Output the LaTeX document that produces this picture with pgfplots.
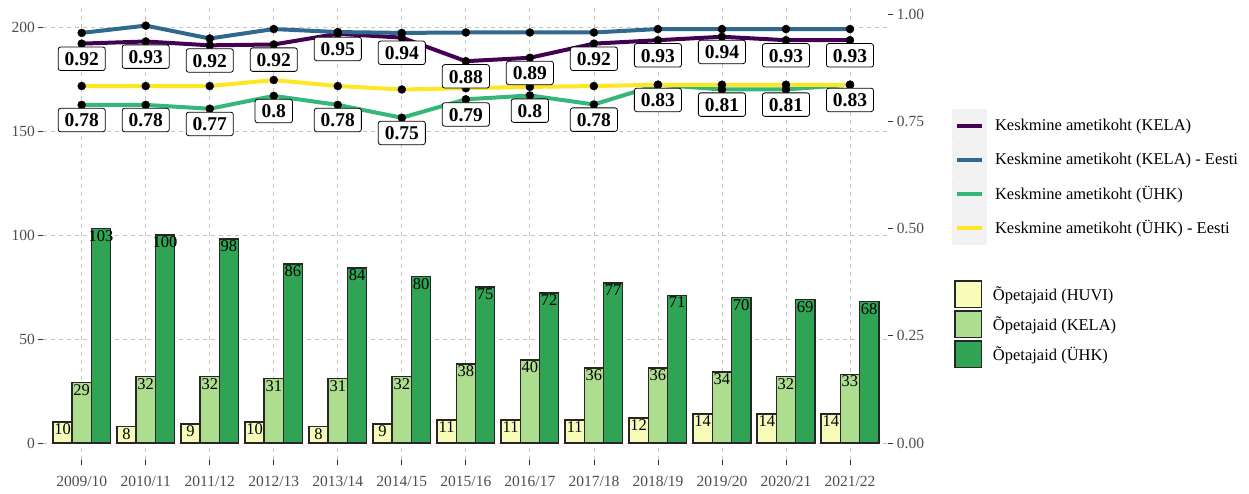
\documentclass[border=0pt]{standalone}
\usepackage{pgfplots}
\pgfplotsset{compat=1.18}
\usepackage{pgfplotstable}
\usepackage{fontspec}
\setmainfont{Liberation Serif}
\definecolor{cKela}{HTML}{440154}
\definecolor{cKelaE}{HTML}{31688E}
\definecolor{cUhk}{HTML}{35B779}
\definecolor{cUhkE}{HTML}{FDE725}
\definecolor{bHuvi}{HTML}{F7FCB9}
\definecolor{bKela}{HTML}{ADDD8E}
\definecolor{bUhk}{HTML}{31A354}
\definecolor{tickc}{HTML}{4D4D4D}
\definecolor{gridc}{HTML}{C4C4C4}
\definecolor{keybg}{HTML}{F2F2F2}

\pgfplotstableread{
x huvi kela uhk
0 10 29 103
1 8 32 100
2 9 32 98
3 10 31 86
4 8 31 84
5 9 32 80
6 11 38 75
7 11 40 72
8 11 36 77
9 12 36 71
10 14 34 70
11 14 32 69
12 14 33 68
}\bars

\pgfplotstableread{
x kela kelaE uhk uhkE kelaL uhkL
0 0.932 0.957 0.789 0.833 0.92 0.78
1 0.937 0.974 0.789 0.833 0.93 0.78
2 0.928 0.944 0.780 0.833 0.92 0.77
3 0.930 0.966 0.810 0.847 0.92 0.8
4 0.955 0.959 0.789 0.833 0.95 0.78
5 0.946 0.957 0.759 0.825 0.94 0.75
6 0.891 0.958 0.802 0.828 0.88 0.79
7 0.899 0.958 0.811 0.831 0.89 0.8
8 0.932 0.958 0.790 0.833 0.92 0.78
9 0.940 0.966 0.836 0.836 0.93 0.83
10 0.948 0.966 0.825 0.836 0.94 0.81
11 0.940 0.966 0.825 0.836 0.93 0.81
12 0.940 0.966 0.836 0.836 0.93 0.83
}\lines

\pgfplotsset{
  common/.style={
    scale only axis, width=845.1pt, height=455.5pt,
    at={(43.3pt,34.4pt)}, anchor=south west,
    xmin=-0.6, xmax=12.6,
    clip=false,
    /pgf/number format/assume math mode=true,
    tick align=outside, major tick length=5pt,
    tick style={black!80, line width=0.8pt},
    ticklabel style={font=\fontsize{15.5}{18}\selectfont, text=tickc},
    axis line style={draw=none},
    legend cell align=left,
  },
}

\begin{document}
\begin{tikzpicture}
\useasboundingbox (0,0) rectangle (1249pt,494pt);

% ---- bars, left axis ----
\begin{axis}[common,
  axis x line*=bottom, axis y line*=left,
  ymin=-8, ymax=211,
  ytick={0,50,100,150,200},
  xtick={0,...,12},
  xticklabels={2009/10,2010/11,2011/12,2012/13,2013/14,2014/15,2015/16,2016/17,2017/18,2018/19,2019/20,2020/21,2021/22},
  xticklabel style={yshift=-8pt},
  grid=major,
  grid style={dash pattern=on 4pt off 4pt, gridc, line width=0.8pt},
  ybar=0pt, bar width=19.21pt,
  nodes near coords,
  nodes near coords align={anchor=north},
  every node near coord/.append style={font=\fontsize{16.5}{19}\selectfont, text=black, inner sep=1pt},
  legend image code/.code={
    \draw[#1, line width=1.5pt] (0.75pt,-13.25pt) rectangle (27.25pt,13.25pt);
    \path[draw=none, fill=none] (0pt,-15pt) rectangle (39pt,15pt);
  },
  legend style={at={(1.0776,0.3954)}, anchor=north west, draw=none, fill=none,
    inner sep=0pt, outer sep=0pt, row sep=0pt, column sep=0pt,
    font=\fontsize{16.5}{19}\selectfont, nodes={inner sep=0pt}},
]
\addplot[fill=bHuvi, draw=black!85, line width=1.5pt] table[x=x, y=huvi] {\bars};
\addlegendentry{Õpetajaid (HUVI)}
\addplot[fill=bKela, draw=black!85, line width=1.5pt] table[x=x, y=kela] {\bars};
\addlegendentry{Õpetajaid (KELA)}
\addplot[fill=bUhk, draw=black!85, line width=1.5pt] table[x=x, y=uhk] {\bars};
\addlegendentry{Õpetajaid (ÜHK)}
\end{axis}

% ---- lines, right axis ----
\begin{axis}[common,
  axis x line=none, axis y line*=right,
  ymin=-0.038835, ymax=1.024272,
  ytick={0,0.25,0.5,0.75,1},
  yticklabels={0.00,0.25,0.50,0.75,1.00},
  legend image code/.code={
    \fill[keybg] (0pt,-15pt) rectangle (31pt,15pt);
    \draw[#1, line width=4pt] (3pt,0pt) -- (28pt,0pt);
    \path[draw=none, fill=none] (31pt,0pt) -- (41pt,0pt);
  },
  legend style={at={(1.0753,0.7697)}, anchor=north west, draw=none, fill=none,
    inner sep=0pt, outer sep=0pt, row sep=0pt, column sep=0pt,
    font=\fontsize{16.5}{19}\selectfont, nodes={inner sep=0pt}},
]
\addplot[cKela, line width=4pt, mark=none, line join=round] table[x=x, y=kela] {\lines};
\addlegendentry{Keskmine ametikoht (KELA)}
\addplot[cKelaE, line width=4pt, mark=none, line join=round] table[x=x, y=kelaE] {\lines};
\addlegendentry{Keskmine ametikoht (KELA) - Eesti}
\addplot[cUhk, line width=4pt, mark=none, line join=round] table[x=x, y=uhk] {\lines};
\addlegendentry{Keskmine ametikoht (ÜHK)}
\addplot[cUhkE, line width=4pt, mark=none, line join=round] table[x=x, y=uhkE] {\lines};
\addlegendentry{Keskmine ametikoht (ÜHK) - Eesti}
% points
\addplot[forget plot, only marks, mark=*, mark size=4pt, mark options={fill=black, draw=none}] table[x=x, y=kela] {\lines};
\addplot[forget plot, only marks, mark=*, mark size=4pt, mark options={fill=black, draw=none}] table[x=x, y=kelaE] {\lines};
\addplot[forget plot, only marks, mark=*, mark size=4pt, mark options={fill=black, draw=none}] table[x=x, y=uhk] {\lines};
\addplot[forget plot, only marks, mark=*, mark size=4pt, mark options={fill=black, draw=none}] table[x=x, y=uhkE] {\lines};
% labels
\addplot[forget plot, draw=none, mark=none, point meta=explicit symbolic,
  nodes near coords, nodes near coords align={anchor=north},
  every node near coord/.append style={font=\fontsize{19.5}{22}\selectfont\bfseries, fill=white, draw=black, text=black, rounded corners=2.5pt, line width=0.8pt, inner xsep=6.5pt, inner ysep=5pt, text height=13.5pt, text depth=0pt, yshift=-3pt}]
  table[x=x, y=kela, meta=kelaL] {\lines};
\addplot[forget plot, draw=none, mark=none, point meta=explicit symbolic,
  nodes near coords, nodes near coords align={anchor=north},
  every node near coord/.append style={font=\fontsize{19.5}{22}\selectfont\bfseries, fill=white, draw=black, text=black, rounded corners=2.5pt, line width=0.8pt, inner xsep=6.5pt, inner ysep=5pt, text height=13.5pt, text depth=0pt, yshift=-3pt}]
  table[x=x, y=uhk, meta=uhkL] {\lines};
\end{axis}
\end{tikzpicture}
\end{document}
